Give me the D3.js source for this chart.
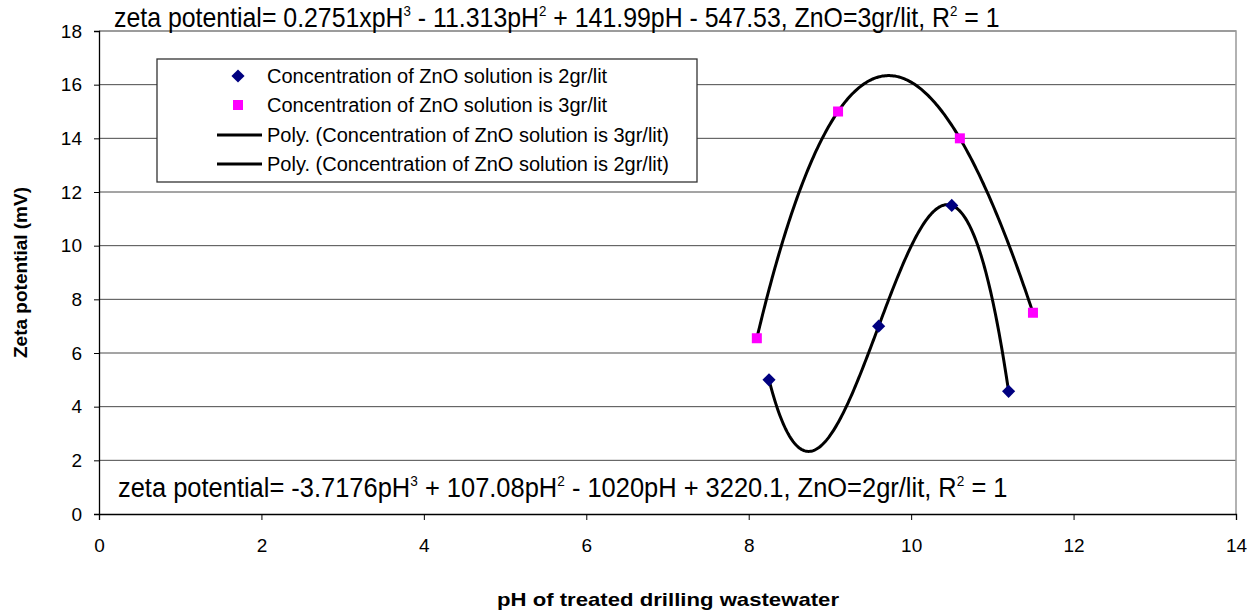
<!DOCTYPE html>
<html>
<head>
<meta charset="utf-8">
<script src="https://cdn.jsdelivr.net/npm/d3@7"></script>
<style>
  body { margin: 0; background: #fff; }
  svg { display: block; font-family: "Liberation Sans", Arial, sans-serif; }
</style>
</head>
<body>
<svg id="chart" width="1254" height="612"></svg>
<script>
// --- data ---
const xTicks = [0, 2, 4, 6, 8, 10, 12, 14];
const yTicks = [0, 2, 4, 6, 8, 10, 12, 14, 16, 18];

const ph2 = [8.25, 9.6, 10.5, 11.2];
const zeta2 = [5.0, 7.0, 11.5, 4.57];
const ph3 = [8.1, 9.1, 10.6, 11.5];
const zeta3 = [6.55, 15.0, 14.0, 7.5];

const legendLabels = [
  'Concentration of ZnO solution is 2gr/lit',
  'Concentration of ZnO solution is 3gr/lit',
  'Poly. (Concentration of ZnO solution is 3gr/lit)',
  'Poly. (Concentration of ZnO solution is 2gr/lit)'
];

// equation labels, [text, isSuperscript]
const eq3Parts = [['zeta potential= 0.2751xpH', 0], ['3', 1], [' - 11.313pH', 0], ['2', 1],
  [' + 141.99pH - 547.53, ZnO=3gr/lit, R', 0], ['2', 1], [' = 1', 0]];
const eq2Parts = [['zeta potential= -3.7176pH', 0], ['3', 1], [' + 107.08pH', 0], ['2', 1],
  [' - 1020pH + 3220.1, ZnO=2gr/lit, R', 0], ['2', 1], [' = 1', 0]];

const xTitle = 'pH of treated drilling wastewater';
const yTitle = 'Zeta potential (mV)';

// --- layout ---
const svg = d3.select('#chart');
const W = 1254, H = 612;
const margin = { top: 31, right: 18, bottom: 98, left: 99 };
const width = W - margin.left - margin.right;
const height = H - margin.top - margin.bottom;

const g = svg.append('g').attr('transform', `translate(${margin.left},${margin.top})`);

const xScale = d3.scaleLinear().domain([0, 14]).range([0, width]);
const yScale = d3.scaleLinear().domain([0, 18]).range([height, 0]);

// grid
g.append('g')
  .selectAll('line')
  .data(yTicks.filter(d => d > 0))
  .join('line')
  .attr('x1', 0).attr('x2', width)
  .attr('y1', d => yScale(d)).attr('y2', d => yScale(d))
  .attr('stroke', '#4a4a4a').attr('stroke-width', 1);

// plot area frame (top/right grey)
g.append('path')
  .attr('d', `M0,0H${width}V${height}`)
  .attr('fill', 'none').attr('stroke', '#999').attr('stroke-width', 1.5);

// axes
const xAxis = g.append('g')
  .attr('transform', `translate(0,${height})`)
  .call(d3.axisBottom(xScale).tickValues(xTicks).tickSize(6).tickPadding(19).tickFormat(d3.format('d')));
const yAxis = g.append('g')
  .call(d3.axisLeft(yScale).tickValues(yTicks).tickSize(5).tickPadding(12).tickFormat(d3.format('d')));

[xAxis, yAxis].forEach(a => {
  a.attr('font-size', 19).attr('font-family', '"Liberation Sans", Arial, sans-serif');
  a.select('.domain').attr('stroke', '#000').attr('stroke-width', 1.3);
  a.selectAll('.tick line').attr('stroke', '#000');
  a.selectAll('text').attr('fill', '#000');
});

// cubic fit through the four points (R^2 = 1), as the spreadsheet trendline does
function cubicThrough(xs, ys) {
  return x => xs.reduce((sum, xi, i) => {
    let term = ys[i];
    xs.forEach((xj, j) => { if (j !== i) term *= (x - xj) / (xi - xj); });
    return sum + term;
  }, 0);
}

const line = d3.line().x(d => xScale(d[0])).y(d => yScale(d[1])).curve(d3.curveLinear);

function trend(xs, ys) {
  const f = cubicThrough(xs, ys);
  const lo = d3.min(xs), hi = d3.max(xs);
  return d3.range(0, 201).map(i => {
    const x = lo + (hi - lo) * i / 200;
    return [x, f(x)];
  });
}

g.append('path').datum(trend(ph3, zeta3))
  .attr('d', line).attr('fill', 'none').attr('stroke', '#000').attr('stroke-width', 3);
g.append('path').datum(trend(ph2, zeta2))
  .attr('d', line).attr('fill', 'none').attr('stroke', '#000').attr('stroke-width', 3);

// markers
const diamond = d3.symbol().type(d3.symbolDiamond2).size(110);
g.append('g').selectAll('path')
  .data(ph2.map((x, i) => [x, zeta2[i]]))
  .join('path')
  .attr('d', diamond)
  .attr('transform', d => `translate(${xScale(d[0])},${yScale(d[1])})`)
  .attr('fill', '#000080');

g.append('g').selectAll('rect')
  .data(ph3.map((x, i) => [x, zeta3[i]]))
  .join('rect')
  .attr('x', d => xScale(d[0]) - 5).attr('y', d => yScale(d[1]) - 5)
  .attr('width', 10).attr('height', 10)
  .attr('fill', '#ff00ff');

// equations
function equation(parts, x, y, targetWidth) {
  const t = svg.append('text').attr('x', x).attr('y', y).attr('font-size', 28).attr('fill', '#000');
  parts.forEach(([s, sup], i) => {
    const sp = t.append('tspan').text(s);
    if (sup) sp.attr('font-size', 15).attr('dy', -11);
    else if (i > 0 && parts[i - 1][1]) sp.attr('dy', 11);
  });
  const w = t.node().getComputedTextLength();
  t.attr('transform', `translate(${x},0) scale(${targetWidth / w},1) translate(${-x},0)`);
}
equation(eq3Parts, 114, 27, 886);
equation(eq2Parts, 118, 497, 890);

// legend
const legend = svg.append('g');
legend.append('rect')
  .attr('x', 157).attr('y', 59).attr('width', 540).attr('height', 123)
  .attr('fill', '#fff').attr('stroke', '#333').attr('stroke-width', 1.3);
const rowY = [76, 105, 135, 164];
legend.append('path').attr('d', diamond)
  .attr('transform', `translate(238,${rowY[0]})`).attr('fill', '#000080');
legend.append('rect').attr('x', 233).attr('y', rowY[1] - 5).attr('width', 10).attr('height', 10)
  .attr('fill', '#ff00ff');
[2, 3].forEach(i => legend.append('line')
  .attr('x1', 217).attr('x2', 262).attr('y1', rowY[i]).attr('y2', rowY[i])
  .attr('stroke', '#000').attr('stroke-width', 3));
legend.selectAll('text.lbl')
  .data(legendLabels)
  .join('text')
  .attr('class', 'lbl')
  .attr('x', 267).attr('y', (d, i) => rowY[i] + 7)
  .attr('font-size', 20).attr('fill', '#000')
  .text(d => d);

// axis titles
svg.append('text')
  .attr('x', 668).attr('y', 606)
  .attr('text-anchor', 'middle').attr('font-size', 19).attr('font-weight', 'bold')
  .attr('textLength', 342).attr('lengthAdjust', 'spacingAndGlyphs')
  .text(xTitle);
svg.append('text')
  .attr('transform', `translate(27,${margin.top + height / 2}) rotate(-90)`)
  .attr('text-anchor', 'middle').attr('font-size', 19).attr('font-weight', 'bold')
  .text(yTitle);
</script>
</body>
</html>
